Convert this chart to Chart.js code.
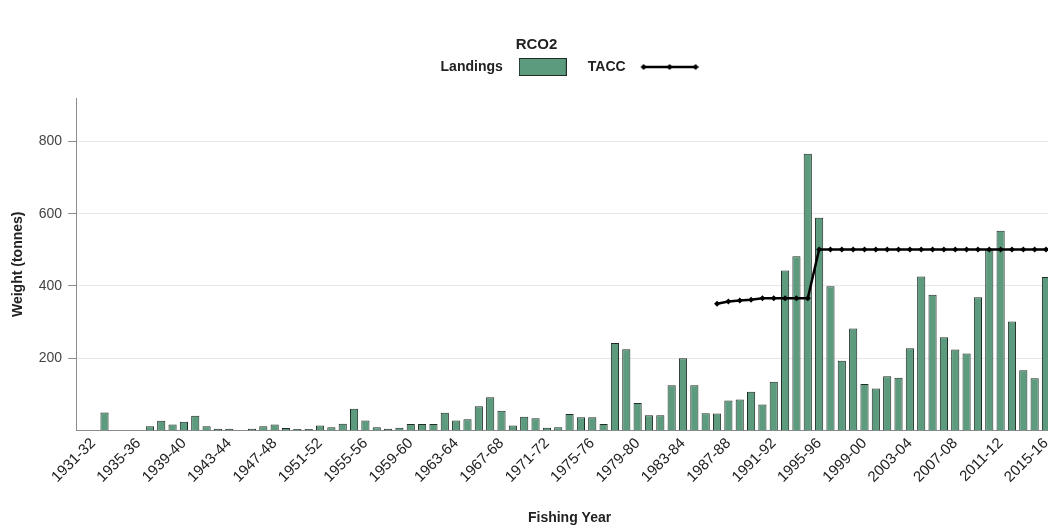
<!DOCTYPE html>
<html>
<head>
<meta charset="utf-8">
<title>RCO2</title>
<script src="https://cdn.jsdelivr.net/npm/chart.js@4.4.1/dist/chart.umd.min.js"></script>
<style>
  html, body { margin: 0; padding: 0; background: #fff; overflow: hidden; }
  #wrap { width: 1072px; height: 527px; }
</style>
</head>
<body>
<div id="wrap"><canvas id="rcoChart" width="1072" height="527"></canvas></div>
<script>
// fishing years (the last one is cut off by the page edge)
const fishingYears = [
  "1930-31", "1931-32", "1932-33", "1933-34", "1934-35", "1935-36", "1936-37", "1937-38", "1938-39", "1939-40",
  "1940-41", "1941-42", "1942-43", "1943-44", "1944-45", "1945-46", "1946-47", "1947-48", "1948-49", "1949-50",
  "1950-51", "1951-52", "1952-53", "1953-54", "1954-55", "1955-56", "1956-57", "1957-58", "1958-59", "1959-60",
  "1960-61", "1961-62", "1962-63", "1963-64", "1964-65", "1965-66", "1966-67", "1967-68", "1968-69", "1969-70",
  "1970-71", "1971-72", "1972-73", "1973-74", "1974-75", "1975-76", "1976-77", "1977-78", "1978-79", "1979-80",
  "1980-81", "1981-82", "1982-83", "1983-84", "1984-85", "1985-86", "1986-87", "1987-88", "1988-89", "1989-90",
  "1990-91", "1991-92", "1992-93", "1993-94", "1994-95", "1995-96", "1996-97", "1997-98", "1998-99", "1999-00",
  "2000-01", "2001-02", "2002-03", "2003-04", "2004-05", "2005-06", "2006-07", "2007-08", "2008-09", "2009-10",
  "2010-11", "2011-12", "2012-13", "2013-14", "2014-15", "2015-16", "2016-17",
];

// which years get a label on the x axis
const shownYearLabels = [
  "1931-32", "1935-36", "1939-40", "1943-44", "1947-48", "1951-52", "1955-56", "1959-60",
  "1963-64", "1967-68", "1971-72", "1975-76", "1979-80", "1983-84", "1987-88", "1991-92",
  "1995-96", "1999-00", "2003-04", "2007-08", "2011-12", "2015-16",
];

// landings (t)
const landings = [
  null, null, 50, null, null, null, 12, 27, 17, 24,
  41, 12, 5, 5, null, 5, 12, 17, 7, 4,
  4, 14, 9, 19, 60, 28, 9, 5, 8, 18,
  18, 18, 49, 28, 31, 67, 92, 55, 14, 38,
  34, 8, 9, 46, 37, 37, 18, 242, 225, 76,
  42, 42, 125, 200, 125, 48, 47, 83, 86, 107,
  72, 135, 443, 482, 766, 589, 399, 193, 282, 129,
  116, 150, 146, 228, 426, 376, 258, 224, 213, 369,
  502, 553, 302, 167, 145, 425, null,
];

// TACC (t), starts 1986-87
const tacc = [
  null, null, null, null, null, null, null, null, null, null,
  null, null, null, null, null, null, null, null, null, null,
  null, null, null, null, null, null, null, null, null, null,
  null, null, null, null, null, null, null, null, null, null,
  null, null, null, null, null, null, null, null, null, null,
  null, null, null, null, null, null, 351, 357, 360, 362,
  366, 366, 366, 366, 366, 501, 501, 501, 501, 501,
  501, 501, 501, 501, 501, 501, 501, 501, 501, 501,
  501, 501, 501, 501, 501, 501, 501,
];

const yTicks = [200, 400, 600, 800];

const barGreen = "#5c9b7d";
const barEdge = "#1f2d25";

Chart.defaults.font.family = '"Liberation Sans", Arial, sans-serif';

// legend icons: filled box for landings, line with markers for TACC
const landingsIcon = document.createElement("canvas");
landingsIcon.width = 48;
landingsIcon.height = 18;
let ic = landingsIcon.getContext("2d");
ic.fillStyle = barGreen;
ic.fillRect(0, 0, 48, 18);
ic.strokeStyle = barEdge;
ic.lineWidth = 1;
ic.strokeRect(0.5, 0.5, 47, 17);

const taccIcon = document.createElement("canvas");
taccIcon.width = 66;
taccIcon.height = 10;
ic = taccIcon.getContext("2d");
ic.strokeStyle = "#000";
ic.fillStyle = "#000";
ic.lineWidth = 2.5;
ic.beginPath();
ic.moveTo(11, 5);
ic.lineTo(63, 5);
ic.stroke();
[11, 37, 63].forEach((x) => {
  ic.beginPath();
  ic.moveTo(x, 2);
  ic.lineTo(x + 3, 5);
  ic.lineTo(x, 8);
  ic.lineTo(x - 3, 5);
  ic.closePath();
  ic.fill();
});

// extra room under the legend, before the plot starts
const legendGap = {
  id: "legendGap",
  beforeInit(chart) {
    const fit = chart.legend.fit;
    chart.legend.fit = function () {
      fit.call(this);
      this.height += 14;
    };
  },
};

const ctx = document.getElementById("rcoChart").getContext("2d");
new Chart(ctx, {
  type: "bar",
  data: {
    labels: fishingYears,
    datasets: [
      {
        type: "line",
        label: "TACC",
        data: tacc,
        borderColor: "#000",
        backgroundColor: "#000",
        borderWidth: 2.5,
        tension: 0,
        pointStyle: "rectRot",
        pointRadius: 3,
        pointBackgroundColor: "#000",
        pointBorderWidth: 0,
        order: 0,
      },
      {
        type: "bar",
        label: "Landings",
        data: landings,
        backgroundColor: barGreen,
        borderColor: barEdge,
        borderWidth: 1,
        barPercentage: 0.72,
        categoryPercentage: 1,
        order: 1,
      },
    ],
  },
  options: {
    responsive: false,
    animation: false,
    layout: { padding: { left: 10, right: 9, top: 0, bottom: 0 } },
    plugins: {
      title: {
        display: true,
        text: "RCO2",
        color: "#222",
        font: { size: 15, weight: "bold" },
        padding: { top: 36, bottom: -6 },
      },
      legend: {
        rtl: true,
        fullSize: false,
        labels: {
          usePointStyle: true,
          pointStyleWidth: 66,
          padding: 12,
          color: "#222",
          font: { size: 14, weight: "bold" },
          generateLabels: () => [
            { text: "TACC", pointStyle: taccIcon, datasetIndex: 0, fontColor: "#222" },
            { text: "Landings", pointStyle: landingsIcon, datasetIndex: 1, fontColor: "#222" },
          ],
        },
      },
      tooltip: { enabled: false },
    },
    scales: {
      x: {
        grid: { display: true, drawOnChartArea: false, drawTicks: false },
        border: { color: "#8c8c8c" },
        ticks: {
          autoSkip: false,
          maxRotation: 45,
          minRotation: 45,
          padding: 4,
          color: "#222",
          font: { size: 15 },
          callback: (v, i) => (shownYearLabels.includes(fishingYears[i]) ? fishingYears[i] : null),
        },
        title: {
          display: true,
          text: "Fishing Year",
          color: "#222",
          font: { size: 14, weight: "bold" },
          padding: { top: 20, bottom: 0 },
        },
      },
      y: {
        min: 0,
        max: 920,
        afterBuildTicks: (scale) => {
          scale.ticks = yTicks.map((v) => ({ value: v }));
        },
        grid: { color: "#e8e8e8", tickColor: "#8c8c8c", tickLength: 8 },
        border: { color: "#8c8c8c" },
        ticks: { padding: 6, color: "#444", font: { size: 14 } },
        title: {
          display: true,
          text: "Weight (tonnes)",
          color: "#222",
          font: { size: 14, weight: "bold" },
          padding: { top: 0, bottom: 6 },
        },
      },
    },
  },
  plugins: [legendGap],
});
</script>
</body>
</html>
